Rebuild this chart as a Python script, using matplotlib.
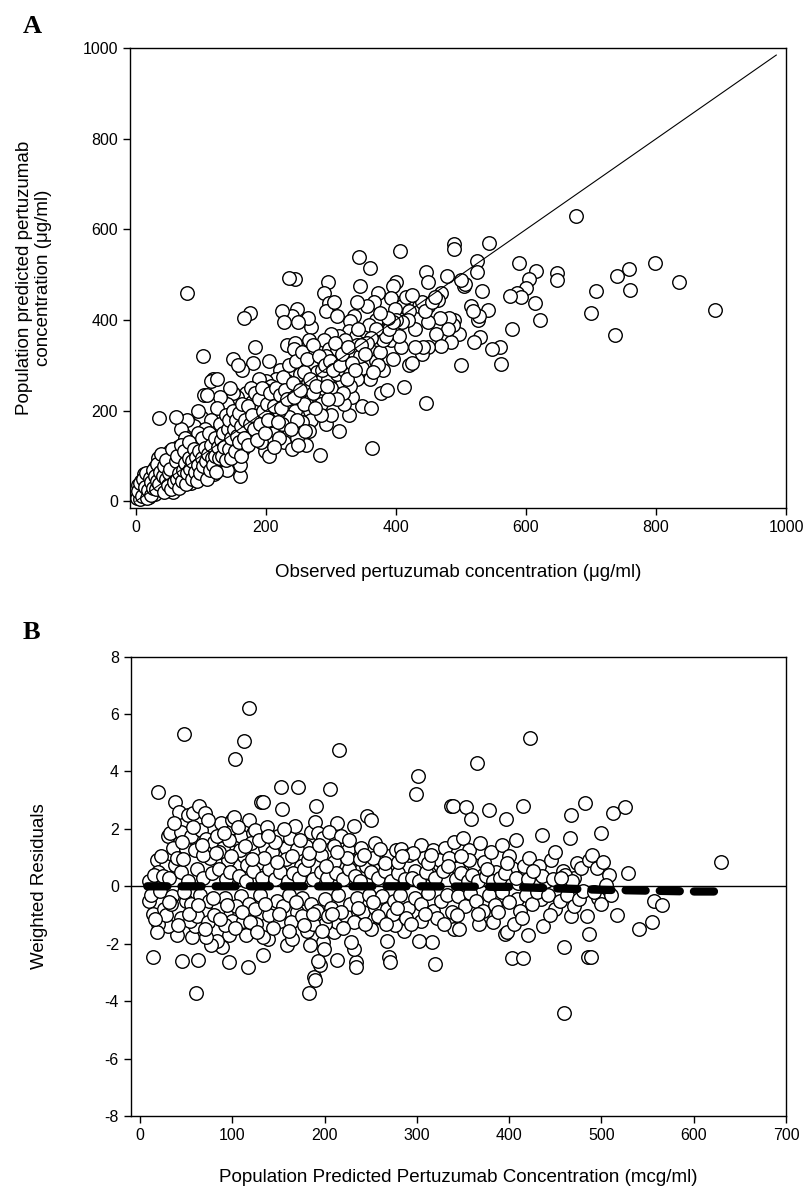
import numpy as np
import matplotlib
matplotlib.use("Agg")
import matplotlib.pyplot as plt

plt.rcParams['font.family'] = ['Liberation Sans', 'DejaVu Sans']
plt.rcParams['axes.unicode_minus'] = False

# ---- panel A : observed vs population predicted (ug/ml) ----
obs_pred = [
    (677, 630), (78, 460), (35, 183), (103, 320), (363, 118), (283, 103), (447, 217),
    (890, 423), (835, 483), (798, 527), (758, 513), (740, 498), (760, 467), (707, 465),
    (700, 415), (737, 367), (648, 503), (647, 488), (615, 508), (614, 437), (622, 400),
    (604, 490), (600, 470), (589, 525), (586, 460), (592, 450), (578, 380), (575, 452),
    (560, 340), (562, 302), (548, 337), (543, 570), (541, 423), (530, 362), (532, 465),
    (525, 530), (524, 505), (526, 400), (528, 410), (520, 352), (515, 432), (518, 420),
    (505, 475), (507, 480), (500, 488), (500, 300), (497, 370), (490, 568), (490, 556),
    (490, 400), (488, 390), (485, 352), (482, 405), (480, 380), (478, 497), (470, 460),
    (465, 445), (462, 370), (468, 405), (470, 343), (450, 340), (447, 505), (450, 485),
    (450, 430), (449, 395), (440, 325), (441, 340),
    (406, 553), (400, 485), (396, 475), (405, 437), (410, 430), (392, 448), (398, 425),
    (393, 355), (395, 315), (408, 340), (405, 365), (412, 252), (377, 238), (387, 245),
    (372, 460), (382, 375), (367, 440), (370, 400), (360, 515), (356, 430), (343, 540),
    (345, 475), (340, 440), (336, 408), (330, 397), (328, 375), (338, 365), (340, 345),
    (353, 375), (358, 390), (365, 330), (355, 300), (348, 295), (360, 270), (348, 210),
    (362, 205), (333, 230), (328, 190), (313, 155), (320, 215), (315, 260), (305, 240),
    (300, 275), (295, 485), (290, 460), (297, 437), (293, 420), (305, 440), (310, 410),
    (312, 365), (300, 370), (290, 355), (297, 335), (310, 335), (308, 300), (292, 320),
    (283, 305), (270, 385), (265, 405), (266, 355), (262, 290), (270, 300), (275, 275),
    (260, 240), (265, 220), (268, 200), (270, 180), (262, 125), (267, 155), (280, 230),
    (285, 215), (292, 170), (300, 190), (288, 250),
    (245, 490), (235, 492), (248, 425), (240, 410), (225, 420), (228, 395), (232, 345),
    (245, 350), (250, 395), (243, 335), (250, 300), (238, 280), (232, 265), (225, 255),
    (222, 290), (215, 270), (225, 230), (230, 215), (238, 210), (245, 200), (235, 185),
    (228, 130), (240, 115), (248, 140), (255, 260), (252, 280),
    (205, 310), (200, 265), (208, 255), (210, 230), (198, 245), (190, 270), (183, 340),
    (180, 305), (175, 415), (166, 405), (163, 290), (150, 315), (157, 300), (170, 240),
    (178, 220), (185, 210), (190, 190), (195, 165), (205, 140), (198, 110), (205, 100),
    (215, 155), (210, 190), (192, 130), (185, 175), (175, 145), (170, 190), (160, 205),
    (155, 230), (150, 240), (145, 250), (140, 215), (130, 230), (125, 205), (118, 270),
    (115, 265), (125, 270), (105, 235), (110, 235), (100, 185), (95, 200), (90, 165),
    (85, 125), (78, 180), (70, 160), (62, 185), (75, 140), (65, 120),
    (160, 55), (160, 80), (155, 110), (148, 125), (140, 100), (135, 85), (130, 115),
    (125, 145), (120, 160), (115, 180), (110, 135), (105, 100), (100, 70), (95, 55),
    (90, 90), (85, 60), (80, 45), (78, 105), (72, 95), (68, 75), (60, 55), (58, 95),
    (52, 110), (50, 85), (45, 65), (42, 45), (40, 25), (35, 55), (30, 75), (28, 40),
    (25, 60), (20, 35), (18, 50), (15, 20), (12, 60), (10, 30), (8, 45), (5, 15),
    (3, 35), (2, 8), (12, 18), (22, 20), (30, 15), (45, 30), (55, 40), (65, 35),
    (85, 40), (100, 55), (115, 85), (120, 60), (130, 75), (140, 70), (145, 155),
    (150, 135), (165, 115), (170, 165), (180, 150), (188, 155), (110, 60), (92, 130),
    (88, 105), (70, 110), (62, 70), (48, 100), (38, 80), (34, 95), (100, 120),
    (107, 160), (120, 110), (135, 170), (140, 135), (125, 90), (95, 150), (80, 80),
    (75, 55), (55, 60), (57, 20), (42, 90), (20, 10), (7, 5),
    (210, 180), (220, 200), (225, 170), (240, 245), (250, 230), (258, 215), (265, 260),
    (272, 240), (278, 285), (285, 265), (295, 270), (300, 250), (310, 280), (320, 290),
    (325, 310), (330, 280), (335, 330), (318, 340), (322, 355), (345, 320), (350, 345),
    (370, 310), (375, 330), (380, 355), (385, 365), (390, 380), (380, 290), (372, 300),
    (365, 285), (340, 270), (330, 255), (318, 240), (310, 225), (295, 225), (285, 190),
    (275, 205), (255, 175), (248, 180), (260, 155), (250, 125), (238, 160), (220, 140),
    (213, 120), (420, 300), (425, 305), (430, 340), (435, 430), (440, 440), (445, 420),
    (455, 440), (460, 450), (420, 420), (415, 450), (425, 455), (430, 380), (418, 400),
    (410, 395), (400, 400), (395, 395), (388, 405), (375, 415), (370, 380), (362, 360),
    (355, 350),
    (4, 22), (6, 40), (9, 12), (11, 48), (14, 32), (16, 62), (17, 8), (19, 25),
    (21, 52), (23, 42), (24, 14), (26, 30), (27, 68), (29, 55), (31, 28), (32, 45),
    (33, 82), (36, 38), (37, 65), (39, 105), (41, 55), (43, 78), (44, 20), (46, 48),
    (47, 92), (49, 35), (51, 62), (53, 72), (54, 28), (56, 115), (59, 42), (61, 88),
    (63, 50), (64, 100), (66, 62), (67, 30), (69, 125), (71, 45), (73, 68), (74, 112),
    (76, 85), (77, 38), (79, 62), (81, 95), (82, 130), (84, 72), (86, 50), (87, 88),
    (89, 115), (91, 65), (93, 98), (94, 45), (96, 80), (97, 110), (99, 62), (101, 95),
    (102, 140), (104, 78), (106, 118), (108, 88), (109, 50), (111, 105), (112, 150),
    (114, 70), (116, 125), (117, 95), (119, 80), (121, 140), (122, 100), (124, 65),
    (126, 120), (128, 95), (129, 170), (131, 135), (133, 100), (134, 150), (136, 120),
    (138, 190), (139, 90), (141, 160), (143, 115), (144, 180), (146, 95), (147, 140),
    (149, 200), (151, 160), (152, 110), (154, 180), (156, 145), (158, 130), (159, 195),
    (161, 165), (162, 100), (164, 215), (167, 140), (168, 180), (172, 125), (173, 210),
    (176, 170), (177, 250), (179, 190), (182, 160), (184, 240), (186, 135), (189, 225),
    (191, 170), (194, 250), (196, 200), (199, 150), (202, 215), (204, 180), (207, 240),
    (212, 210), (216, 250), (218, 175), (221, 235), (224, 205), (227, 275), (230, 245),
    (233, 225), (236, 300), (241, 260), (244, 230), (247, 310), (253, 245), (256, 330),
    (259, 285), (263, 315), (268, 270), (273, 345), (277, 255), (281, 320), (286, 290),
    (291, 300), (294, 255), (298, 310), (303, 290), (307, 350), (314, 300), (317, 325),
    (324, 270), (327, 340), (332, 305), (337, 290), (342, 380), (347, 345), (352, 325),
]
observed = [p[0] for p in obs_pred]
predicted = [p[1] for p in obs_pred]
identity = [0, 985]

# ---- panel B : weighted residuals vs population predicted (mcg/ml) ----
pp_wres = [
    (48, 5.3), (118, 6.2), (113, 5.05), (103, 4.45), (216, 4.75), (423, 5.15), (365, 4.3),
    (301, 3.85), (299, 3.2), (20, 3.3), (38, 2.95), (131, 2.95), (133, 2.92), (153, 3.45),
    (171, 3.45), (206, 3.4), (154, 2.7), (191, 2.8), (213, 2.2), (232, 2.1), (246, 2.45),
    (250, 2.3), (337, 2.8), (339, 2.8), (353, 2.75), (359, 2.35), (378, 2.65), (397, 2.35),
    (415, 2.8), (482, 2.9), (467, 2.5), (513, 2.55), (525, 2.75), (499, 1.85), (436, 1.8),
    (407, 1.6), (466, 1.7), (630, 0.85), (529, 0.45), (508, 0.4),
    (14, -2.45), (46, -2.6), (63, -2.55), (61, -3.7), (97, -2.65), (117, -2.8), (133, -2.4),
    (183, -3.7), (189, -3.15), (190, -3.25), (195, -2.75), (198, -1.95), (199, -2.2),
    (193, -2.6), (214, -2.55), (234, -2.65), (234, -2.8), (232, -2.2), (229, -1.95),
    (270, -2.45), (271, -2.65), (268, -1.9), (320, -2.7), (316, -1.95), (302, -1.9),
    (286, -1.55), (403, -2.5), (415, -2.5), (459, -2.1), (459, -4.4), (485, -2.45),
    (489, -2.45), (487, -1.65), (484, -1.05), (467, -1.05), (517, -1.0), (541, -1.5),
    (555, -1.25), (557, -0.5), (566, -0.65), (496, -0.4), (434, -0.45), (450, -0.8),
    (420, -1.7), (437, -1.4), (395, -1.65), (398, -1.6), (405, -1.3), (409, -0.45),
    (377, -1.05), (383, -1.25), (367, -1.3), (340, -1.5), (346, -1.5), (276, -1.35),
    (261, -1.1), (250, -1.5), (247, -1.1), (210, -1.6), (213, -1.25), (200, -1.3),
    (184, -2.05), (181, -1.55), (159, -2.05), (165, -1.85), (139, -1.85), (137, -1.35),
    (133, -1.75), (120, -1.55), (115, -1.7), (107, -1.0), (97, -1.7), (89, -2.1),
    (84, -1.9), (77, -2.05), (72, -1.75), (56, -1.75), (60, -1.4), (44, -1.1), (40, -1.7),
    (30, -1.4), (20, -1.3), (18, -1.6), (10, -0.5), (14, -0.95), (26, -0.8), (50, -0.5),
    (57, -0.85),
    (10, 0.2), (18, 0.9), (28, 0.7), (30, 1.75), (33, 1.85), (36, 1.35), (42, 2.6),
    (44, 1.9), (50, 1.3), (52, 2.5), (55, 1.75), (58, 2.55), (60, 1.25), (64, 2.8),
    (66, 1.95), (70, 2.55), (72, 1.65), (76, 1.0), (80, 1.55), (83, 1.75), (88, 2.2),
    (90, 1.35), (95, 0.9), (100, 2.3), (102, 2.4), (105, 1.6), (110, 1.75), (113, 1.05),
    (116, 0.75), (118, 2.3), (122, 1.85), (125, 1.95), (128, 0.8), (135, 1.35), (138, 2.05),
    (143, 1.2), (150, 1.75), (158, 1.35), (163, 1.7), (168, 2.1), (175, 0.7), (180, 1.4),
    (185, 1.9), (190, 2.25), (193, 1.85), (198, 1.7), (205, 1.9), (210, 0.85), (218, 1.75),
    (225, 1.25), (230, 0.9), (240, 1.35), (245, 0.7), (255, 1.5), (262, 0.95), (270, 1.05),
    (277, 1.25), (283, 1.3), (291, 1.1), (298, 0.55), (305, 1.45), (308, 1.0), (313, 0.45),
    (318, 1.25), (325, 0.9), (330, 1.35), (335, 1.0), (340, 1.55), (345, 0.65), (350, 1.7),
    (356, 1.25), (362, 0.75), (368, 1.5), (373, 0.85), (380, 1.2), (386, 0.5), (392, 1.45),
    (400, 1.05), (403, 0.65), (410, 0.1), (416, 0.7), (422, 1.0), (428, 0.05), (432, 0.7),
    (440, 0.2), (445, 0.9), (450, 1.2), (458, 0.55), (464, 0.1), (470, 0.3), (473, 0.8),
    (478, 0.65), (486, 0.9), (490, 1.1), (495, 0.65), (502, 0.85), (505, 0.05), (20, 0.5),
    (25, 0.15),
    (12, -0.3), (22, -0.15), (35, -0.35), (48, -0.2), (55, -0.6), (65, -0.3), (75, -0.5),
    (85, -0.8), (92, -0.4), (100, -1.2), (110, -0.35), (118, -0.6), (125, -0.8), (130, -0.3),
    (142, -0.9), (148, -0.5), (155, -0.7), (162, -0.3), (170, -0.9), (176, -0.4), (185, -0.6),
    (192, -0.85), (200, -0.45), (207, -0.75), (215, -0.3), (222, -1.0), (228, -0.6),
    (235, -0.4), (242, -0.9), (248, -0.3), (255, -0.75), (262, -0.35), (268, -0.8),
    (275, -0.5), (282, -0.3), (290, -0.75), (298, -0.4), (305, -0.6), (312, -0.25),
    (318, -0.85), (326, -0.5), (333, -0.3), (338, -0.9), (345, -0.35), (352, -0.7),
    (358, -0.25), (364, -0.5), (372, -0.85), (378, -0.3), (385, -0.65), (392, -0.2),
    (400, -0.55), (412, -0.85), (418, -0.3), (425, -0.6), (430, -0.2), (442, -0.3),
    (455, -0.5), (463, -0.3), (470, -0.7), (476, -0.45), (480, -0.15), (492, -0.2),
    (500, -0.6), (510, -0.3),
    (15, 0.4), (25, 0.35), (32, 0.3), (38, 0.75), (45, 0.5), (52, 0.2), (62, 0.6),
    (68, 0.3), (78, 0.45), (86, 0.6), (93, 0.25), (98, 0.5), (107, 0.35), (115, 0.2),
    (123, 0.55), (132, 0.3), (140, 0.6), (146, 0.25), (152, 0.5), (160, 0.2), (166, 0.45),
    (172, 0.3), (178, 0.6), (188, 0.25), (196, 0.5), (203, 0.3), (212, 0.45), (220, 0.25),
    (226, 0.6), (233, 0.35), (238, 0.2), (250, 0.5), (258, 0.3), (265, 0.55), (272, 0.2),
    (280, 0.45), (287, 0.25), (295, 0.3), (302, 0.2), (310, 0.5), (320, 0.3), (328, 0.55),
    (342, 0.25), (348, 0.45), (355, 0.2), (360, 0.4), (366, 0.2), (375, 0.35), (383, 0.2),
    (390, 0.3), (396, 0.45), (407, 0.3), (420, 0.25), (436, 0.35), (448, 0.25), (460, 0.4),
    (468, 0.2),
    (28, -1.0), (34, -0.6), (40, 1.0), (46, 1.55), (54, -1.2), (62, -1.05), (68, 1.1),
    (74, -1.25), (80, -1.0), (86, 1.2), (92, -1.35), (96, 1.6), (104, -0.7), (108, 1.25),
    (112, -1.2), (120, 1.5), (126, -1.3), (134, 1.0), (140, -1.0), (146, 1.55), (152, -1.2),
    (158, 0.95), (164, -1.25), (170, 1.3), (176, -1.05), (182, 0.9), (188, -1.3), (196, 1.1),
    (204, -1.05), (210, 1.4), (218, -0.9), (224, 1.0), (232, -1.25), (238, 0.95), (244, -1.3),
    (252, 1.0), (258, -1.05), (266, 0.8), (274, -0.95), (280, 0.85), (288, -1.1), (296, 1.15),
    (304, -1.2), (312, 0.8), (322, -1.1), (334, 0.7), (344, -1.0), (356, 0.9), (366, -0.95),
    (376, 0.6), (388, -0.9), (398, 0.8), (414, -1.1), (426, 0.55), (444, -1.0), (456, 0.3),
    (16, -1.15), (23, 1.05), (31, -0.55), (37, 2.2), (41, -1.35), (47, 0.95), (53, -0.95),
    (57, 2.05), (63, -0.65), (67, 1.45), (71, -1.5), (74, 2.3), (79, -0.4), (82, 1.15),
    (87, -1.15), (91, 1.85), (94, -0.65), (99, 1.05), (103, -1.45), (106, 2.05), (111, -0.9),
    (114, 1.4), (119, -1.25), (121, 0.95), (127, -1.6), (129, 1.6), (136, -0.6), (139, 1.75),
    (144, -1.45), (148, 0.85), (151, -0.95), (156, 2.0), (161, -1.55), (165, 1.05),
    (169, -0.55), (173, 1.6), (178, -1.35), (183, 1.15), (187, -0.95), (194, 1.45),
    (197, -1.55), (202, 0.7), (208, -0.95), (214, 1.2), (220, -1.45), (227, 1.6),
    (236, -0.75), (243, 1.1), (253, -0.55), (260, 1.3), (267, -1.3), (279, -0.75),
    (284, 1.05), (294, -1.3), (309, -0.95), (315, 1.1), (329, -1.3), (348, 1.05),
]
pop_pred = [p[0] for p in pp_wres]
wres = [p[1] for p in pp_wres]

# smooth trend through the residuals
trend_x = [8, 150, 300, 400, 450, 500, 550, 600, 630]
trend_y = [0.0, 0.0, 0.0, -0.02, -0.07, -0.12, -0.15, -0.18, -0.18]

fig = plt.figure(figsize=(8.08, 11.92), dpi=100)
axA = fig.add_axes([0.1609, 0.5738, 0.8119, 0.3857])
axB = fig.add_axes([0.1618, 0.0638, 0.8110, 0.3853])

for ax in (axA, axB):
    ax.tick_params(direction='out', length=5, width=1, labelsize=11.5, top=False, right=False)
    for s in ax.spines.values():
        s.set_linewidth(1.0)

axA.scatter(observed, predicted, s=95, facecolors='white', edgecolors='black', linewidths=1.0, zorder=2)
axA.plot(identity, identity, color='black', lw=0.8, zorder=3)
axA.set_xlim(-9, 1000)
axA.set_ylim(-15, 1000)
axA.set_xticks([0, 200, 400, 600, 800, 1000])
axA.set_yticks([0, 200, 400, 600, 800, 1000])
axA.set_xlabel('Observed pertuzumab concentration (\u03bcg/ml)', fontsize=13.5, labelpad=21)
axA.set_ylabel('Population predicted pertuzumab\nconcentration (\u03bcg/ml)', fontsize=13.5, labelpad=22)

axB.scatter(pop_pred, wres, s=95, facecolors='white', edgecolors='black', linewidths=1.0, zorder=2)
axB.axhline(0, color='black', lw=1.0, zorder=1)
axB.plot(trend_x, trend_y, color='black', lw=6, ls=(0, (2.4, 1.7)),
         dash_capstyle='round', zorder=3)
axB.set_xlim(-10, 700)
axB.set_ylim(-8, 8)
axB.set_xticks(range(0, 701, 100))
axB.set_yticks(range(-8, 9, 2))
axB.set_xlabel('Population Predicted Pertuzumab Concentration (mcg/ml)', fontsize=13.5, labelpad=19)
axB.set_ylabel('Weighted Residuals', fontsize=13.5, labelpad=41)

fig.text(0.028, 0.978, 'A', fontsize=19, fontweight='bold', family='Liberation Serif', va='center')
fig.text(0.028, 0.469, 'B', fontsize=19, fontweight='bold', family='Liberation Serif', va='center')

fig.savefig('out.png', dpi=100)
